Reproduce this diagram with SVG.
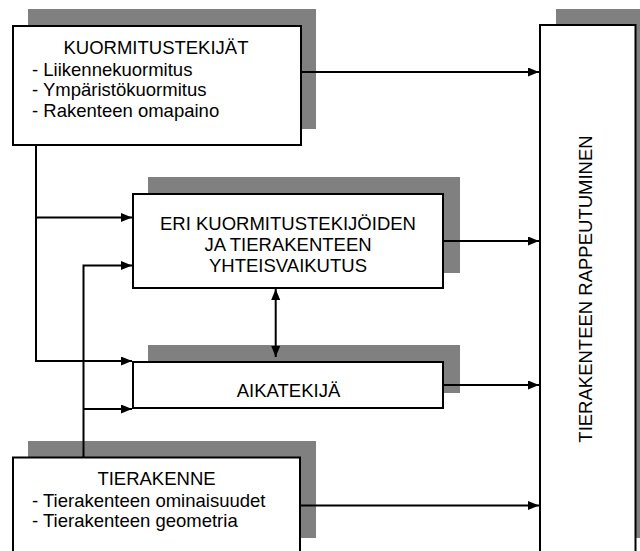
<svg xmlns="http://www.w3.org/2000/svg" width="640" height="551" viewBox="0 0 640 551">
<style>
.sh{fill:#808080;stroke:none}
.bx{fill:#fff;stroke:#000;stroke-width:2}
.t{font-family:"Liberation Sans",Arial,sans-serif;font-size:18.5px;fill:#000}
.c{text-anchor:middle}
.ln{fill:none;stroke:#000;stroke-width:2}
</style>
<defs>
<marker id="ah" markerUnits="userSpaceOnUse" markerWidth="12" markerHeight="10" refX="11" refY="4.5" orient="auto-start-reverse" viewBox="0 0 12 10">
<path d="M0,0 L11,4.5 L0,9 z" fill="#000"/>
</marker>
</defs>
<rect width="640" height="551" fill="#fff"/>
<g id="n1">
<rect class="sh" x="28" y="9" width="288" height="120"/>
<rect class="bx" x="13" y="26" width="288" height="119"/>
<text class="t c" x="156" y="54">KUORMITUSTEKIJÄT</text>
<text class="t" x="32" y="75.5">- Liikennekuormitus</text>
<text class="t" x="32" y="96">- Ympäristökuormitus</text>
<text class="t" x="32" y="116.5">- Rakenteen omapaino</text>
</g>
<g id="n2">
<rect class="sh" x="148" y="177" width="312" height="96"/>
<rect class="bx" x="133" y="194" width="310" height="94"/>
<text class="t c" x="288" y="229.5">ERI KUORMITUSTEKIJÖIDEN</text>
<text class="t c" x="288" y="250.5">JA TIERAKENTEEN</text>
<text class="t c" x="288" y="271.5">YHTEISVAIKUTUS</text>
</g>
<g id="n3">
<rect class="sh" x="148" y="345" width="312" height="48"/>
<rect class="bx" x="133" y="362" width="310" height="46"/>
<text class="t c" x="288.5" y="396.5">AIKATEKIJÄ</text>
</g>
<g id="n4">
<rect class="sh" x="28" y="441" width="288" height="97"/>
<rect class="bx" x="13" y="457.5" width="287" height="200"/>
<text class="t c" x="156.5" y="485">TIERAKENNE</text>
<text class="t" x="32" y="506.5">- Tierakenteen ominaisuudet</text>
<text class="t" x="32" y="526.5">- Tierakenteen geometria</text>
</g>
<g id="n5">
<rect class="sh" x="556" y="9" width="100" height="529"/>
<rect class="bx" x="540" y="25" width="95.5" height="600"/>
<text class="t c" transform="translate(592,289) rotate(-90)">TIERAKENTEEN RAPPEUTUMINEN</text>
</g>
<g id="connectors" class="ln">
<path d="M301,72 H539" marker-end="url(#ah)"/>
<path d="M443,241 H539" marker-end="url(#ah)"/>
<path d="M443,385 H539" marker-end="url(#ah)"/>
<path d="M300,505.5 H539" marker-end="url(#ah)"/>
<path d="M36,145 V361 H132" marker-end="url(#ah)"/>
<path d="M36,217.5 H132" marker-end="url(#ah)"/>
<path d="M83.5,457 V265.5 H132" marker-end="url(#ah)"/>
<path d="M83.5,409 H132" marker-end="url(#ah)"/>
<path d="M275.7,289 V357" marker-start="url(#ah)" marker-end="url(#ah)"/>
</g>
</svg>
